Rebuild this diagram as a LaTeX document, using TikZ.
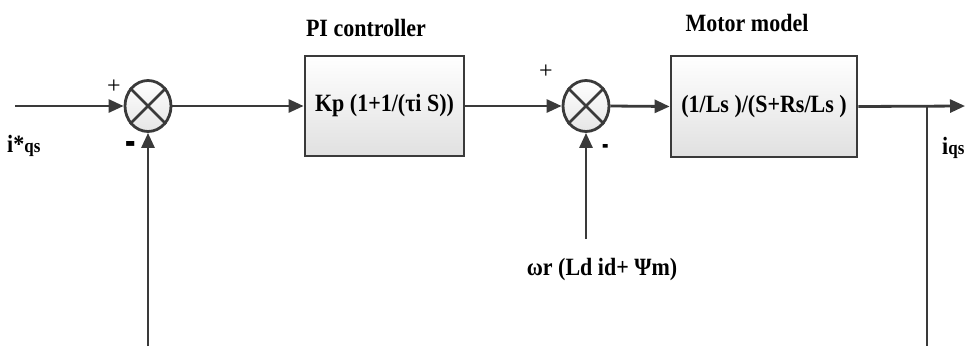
\documentclass[tikz,border=0pt]{standalone}
\usepackage{fontspec}
\usepackage{graphicx}
\setmainfont{Liberation Serif}
\usetikzlibrary{arrows.meta,shapes.geometric}
\definecolor{ln}{HTML}{3A3A3A}
\newcommand{\tallt}[1]{\scalebox{1}[1.13]{#1}}
\tikzset{
  wire/.style={draw=ln,line width=2.8pt},
  arr/.style={wire,-{Triangle[length=15pt,width=13pt]}},
  blockbox/.style={draw=ln,line width=2.8pt,top color=white,bottom color=black!12,
     minimum width=159pt,minimum height=100pt,inner sep=0pt,font=\fontsize{22}{24}\selectfont\bfseries},
  sumnode/.style={ellipse,draw=ln,line width=2.8pt,top color=white,bottom color=black!10,
     minimum width=46pt,minimum height=51pt,inner sep=0pt},
  lbl/.style={font=\fontsize{22}{24}\selectfont\bfseries,inner sep=0pt},
  sgn/.style={font=\fontsize{24}{26}\selectfont,inner sep=0pt},
}
\begin{document}
\begin{tikzpicture}[x=1pt,y=-1pt]
\useasboundingbox (0,0) rectangle (965,346);
% blocks
\node[blockbox] (pi) at (384.5,106) {\tallt{Kp (1+1/(τi S))}};
\node[blockbox,minimum width=186pt,minimum height=101pt] (mot) at (764,106.5) {\tallt{(1/Ls )/(S+Rs/Ls )}};
\node[sumnode] (s1) at (148,106) {};
\node[sumnode] (s2) at (586,106) {};
\draw[ln,line width=2.8pt] (s1.45) -- (s1.225) (s1.135) -- (s1.315);
\draw[ln,line width=2.8pt] (s2.45) -- (s2.225) (s2.135) -- (s2.315);
% titles
\node[lbl] (tpi) at (366,28) {\tallt{PI controller}};
\node[lbl] (tmot) at (747,23) {\tallt{Motor model}};
% coordinates
\coordinate (in) at (15,106);
\coordinate (out) at (965,106);
\coordinate (br) at (927,106);
\coordinate (brb) at (927,346);
\coordinate (fbb) at (148,346);
\coordinate (dist) at (586,239);
% connectors
\draw[arr] (in) -- (s1.west);
\draw[arr] (s1.east) -- (pi.west);
\draw[arr] (pi.east) -- (s2.west);
\draw[arr] (s2.east) -- (mot.west);
\draw[arr] (mot.east) -- (out);
\draw[wire] (br) -- (brb);
\draw[arr] (fbb) -- (s1.south);
\draw[arr] (dist) -- (s2.south);
% signs
\node[sgn] (p1) at (114,87) {+};
\node[sgn] (p2) at (546,72) {+};
\node[sgn] (m1) at (131,149) {\scalebox{1.3}[2.4]{\bfseries -}};
\node[sgn] (m2) at (606,150) {\scalebox{0.8}[1.8]{\bfseries -}};
% signal labels
\node[lbl,anchor=base west] (iref) at (7,152) {\tallt{i*{\fontsize{17}{17}\selectfont qs}}};
\node[lbl,anchor=base west] (iout) at (942,154) {\tallt{i{\fontsize{17}{17}\selectfont qs}}};
\node[lbl] (wr) at (602,270) {\tallt{ωr (Ld id+ Ψm)}};
\end{tikzpicture}
\end{document}
